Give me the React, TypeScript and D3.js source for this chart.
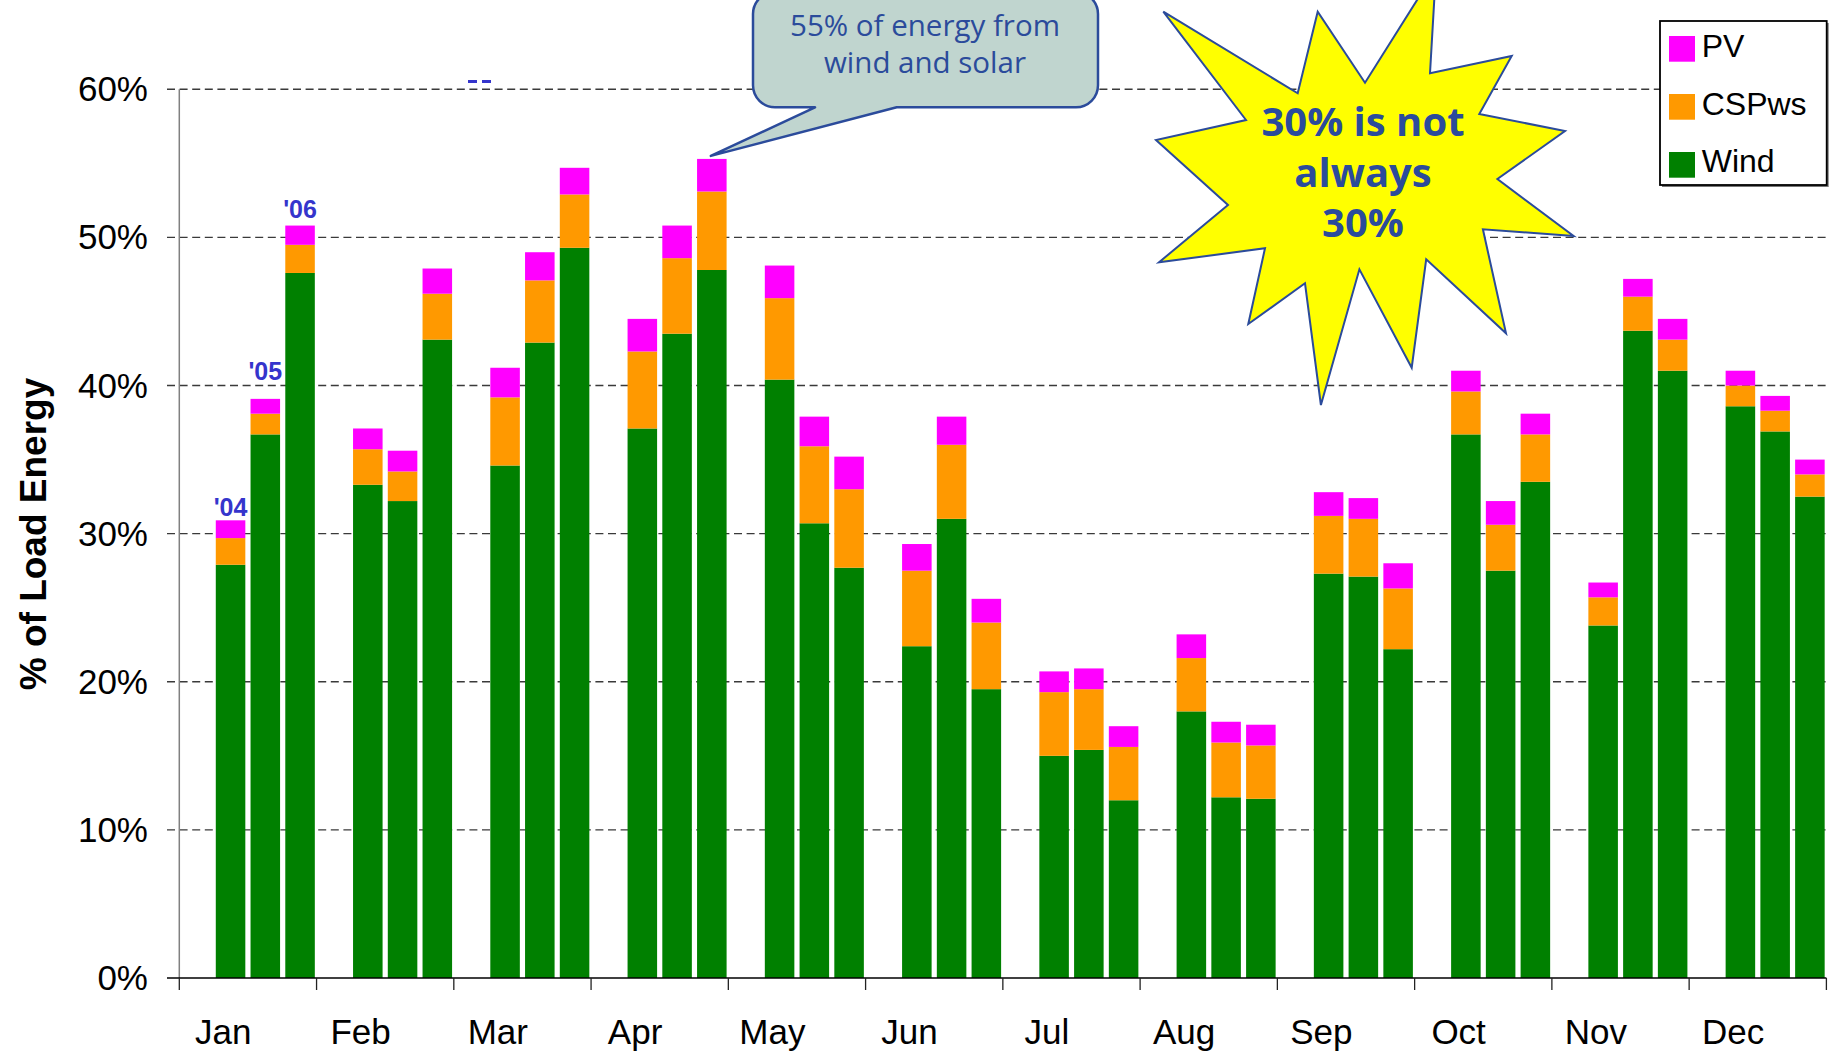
import React from "react";
import * as d3 from "d3";

const months = ["Jan", "Feb", "Mar", "Apr", "May", "Jun", "Jul", "Aug", "Sep", "Oct", "Nov", "Dec"];
const years = ["'04", "'05", "'06"];
const seriesNames = ["Wind", "CSPws", "PV"];
const seriesColors = ["#008000", "#FF9900", "#FF00FF"];

// month-major: Jan'04, Jan'05, Jan'06, Feb'04 ...
const wind = [27.9, 36.7, 47.6, 33.3, 32.2, 43.1, 34.6, 42.9, 49.3, 37.1, 43.5, 47.8, 40.4, 30.7, 27.7, 22.4, 31.0, 19.5, 15.0, 15.4, 12.0, 18.0, 12.2, 12.1, 27.3, 27.1, 22.2, 36.7, 27.5, 33.5, 23.8, 43.7, 41.0, 38.6, 36.9, 32.5];
const cspws = [1.8, 1.4, 1.9, 2.4, 2.0, 3.1, 4.6, 4.2, 3.6, 5.2, 5.1, 5.3, 5.5, 5.2, 5.3, 5.1, 5.0, 4.5, 4.3, 4.1, 3.6, 3.6, 3.7, 3.6, 3.9, 3.9, 4.1, 2.9, 3.1, 3.2, 1.9, 2.3, 2.1, 1.4, 1.4, 1.5];
const pv = [1.2, 1.0, 1.3, 1.4, 1.4, 1.7, 2.0, 1.9, 1.8, 2.2, 2.2, 2.2, 2.2, 2.0, 2.2, 1.8, 1.9, 1.6, 1.4, 1.4, 1.4, 1.6, 1.4, 1.4, 1.6, 1.4, 1.7, 1.4, 1.6, 1.4, 1.0, 1.2, 1.4, 1.0, 1.0, 1.0];

const yTicks = [0, 10, 20, 30, 40, 50, 60];
const yearLabelGaps = [4, 19, 8]; // px above the Jan bars for '04, '05, '06
const calloutText = ["55% of energy from", "wind and solar"];
const burstText = ["30% is not", "always", "30%"];

const W = 1839;
const H = 1052;
const FONT = "'Liberation Sans', Arial, sans-serif";
const BLUE = "#2B4B9B";

export default function App() {
  const rows = months.flatMap((m, i) =>
    years.map((yr, j) => ({
      month: m,
      year: yr,
      Wind: wind[i * 3 + j],
      CSPws: cspws[i * 3 + j],
      PV: pv[i * 3 + j],
    }))
  );
  const stack = d3.stack().keys(seriesNames)(rows as any);

  const x0 = d3.scaleBand().domain(months).range([179.3, 1826.4]).padding(0);
  const x1 = d3
    .scaleBand()
    .domain(["", ...years])
    .range([0, x0.bandwidth()])
    .paddingInner(0.15)
    .paddingOuter(0.05);
  const y = d3.scaleLinear().domain([0, 60]).range([978, 89.3]);

  const xLeft = 167;
  const xRight = 1826.4;

  const barX = (d: any) => (x0(d.data.month) as number) + (x1(d.data.year) as number);

  // callout geometry
  const cL = 753, cR = 1098, cT = -8, cB = 107.3, r = 22;
  const tipBar = rows.find((d) => d.month === "Apr" && d.year === "'06")!;
  const tipX = (x0("Apr") as number) + (x1("'06") as number) + x1.bandwidth() / 2 - 1;
  const tipY = y(tipBar.Wind + tipBar.CSPws + tipBar.PV) - 3;
  const calloutPath = `M${cL + r},${cT} H${cR - r} A${r},${r} 0 0 1 ${cR},${cT + r} V${cB - r} A${r},${r} 0 0 1 ${cR - r},${cB} H896.7 L${tipX},${tipY} L815,${cB} H${cL + r} A${r},${r} 0 0 1 ${cL},${cB - r} V${cT + r} A${r},${r} 0 0 1 ${cL + r},${cT} Z`;

  const burst: [number, number][] = [
    [1163.3, 11.7], [1297.7, 93.3], [1317.7, 11.7], [1365, 82.7], [1436, -30], [1430, 73.3],
    [1511.7, 56], [1479.3, 114], [1565, 131], [1497.4, 179], [1573.6, 236], [1482.9, 229.3],
    [1506, 333.3], [1426.2, 259.3], [1411.7, 367.7], [1359.4, 269.3], [1320.9, 405], [1305, 283.3],
    [1248.3, 324], [1265, 248.3], [1159, 262.3], [1228, 205], [1156, 140], [1246, 120],
  ];

  return (
    <svg
      width={W}
      height={H}
      viewBox={`0 0 ${W} ${H}`}
      style={{ position: "absolute", left: 0, top: 0, display: "block", background: "#fff" }}
    >
      <rect x={0} y={0} width={W} height={H} fill="#fff" />
      {/* gridlines */}
      {yTicks.filter((t) => t > 0).map((t) => (
        <line
          key={t}
          x1={xLeft}
          x2={xRight}
          y1={y(t)}
          y2={y(t)}
          stroke="#3a3a3a"
          strokeWidth={1.4}
          strokeDasharray="8 4.6"
        />
      ))}
      {/* bars */}
      {stack.map((s, si) => (
        <g key={s.key} fill={seriesColors[si]}>
          {s.map((d: any, k: number) => (
            <rect
              key={k}
              x={barX(d)}
              y={y(d[1])}
              width={x1.bandwidth()}
              height={y(d[0]) - y(d[1])}
            />
          ))}
        </g>
      ))}
      {/* axes */}
      <line x1={179.3} x2={179.3} y1={y(60)} y2={y(0)} stroke="#808080" strokeWidth={1.5} />
      <line x1={xLeft} x2={xRight} y1={y(0)} y2={y(0)} stroke="#000" strokeWidth={1.5} />
      {[...months.map((m) => x0(m) as number), xRight].map((xv, i) => (
        <line key={i} x1={xv} x2={xv} y1={y(0)} y2={y(0) + 12} stroke="#222" strokeWidth={1.3} />
      ))}
      {yTicks.map((t) => (
        <text key={t} x={148} y={y(t) + 12} textAnchor="end" fontFamily={FONT} fontSize={35} fill="#000">
          {`${t}%`}
        </text>
      ))}
      {months.map((m) => (
        <text
          key={m}
          x={(x0(m) as number) + 44}
          y={1044}
          textAnchor="middle"
          fontFamily={FONT}
          fontSize={35}
          fill="#000"
        >
          {m}
        </text>
      ))}
      <text
        transform="translate(46,534) rotate(-90)"
        textAnchor="middle"
        fontFamily={FONT}
        fontWeight="bold"
        fontSize={37}
        fill="#000"
      >
        % of Load Energy
      </text>
      {/* year annotations over Jan bars */}
      {years.map((yr, j) => {
        const d = rows[j];
        return (
          <text
            key={yr}
            x={(x0("Jan") as number) + (x1(yr) as number) + x1.bandwidth() / 2}
            y={y(d.Wind + d.CSPws + d.PV) - yearLabelGaps[j]}
            textAnchor="middle"
            fontFamily={FONT}
            fontWeight="bold"
            fontSize={25}
            fill="#3535CC"
          >
            {yr}
          </text>
        );
      })}
      {/* stray blue marks */}
      <rect x={468} y={80} width={9} height={3} fill="#3535CC" />
      <rect x={482} y={80} width={9} height={3} fill="#3535CC" />
      {/* callout */}
      <path d={calloutPath} fill="#C0D5CF" stroke={BLUE} strokeWidth={2.5} strokeLinejoin="round" />
      {calloutText.map((t, i) => (
        <text
          key={i}
          x={925}
          y={36 + i * 37.3}
          textAnchor="middle"
          fontFamily="'Open Sans', sans-serif"
          fontSize={29.5}
          fill={BLUE}
        >
          {t}
        </text>
      ))}
      {/* starburst */}
      <polygon
        points={burst.map((p) => p.join(",")).join(" ")}
        fill="#FFFF00"
        stroke={BLUE}
        strokeWidth={2}
        strokeLinejoin="miter"
      />
      {burstText.map((t, i) => (
        <text
          key={i}
          x={1363}
          y={136 + i * 50.7}
          textAnchor="middle"
          fontFamily="'Open Sans', sans-serif"
          fontWeight="bold"
          fontSize={40}
          fill={BLUE}
        >
          {t}
        </text>
      ))}
      {/* legend */}
      <g>
        <rect x={1662} y={23} width={166.7} height={164} fill="#777" />
        <rect x={1660} y={21} width={166.7} height={164} fill="#fff" stroke="#000" strokeWidth={1.8} />
        {["PV", "CSPws", "Wind"].map((name, i) => (
          <g key={name}>
            <rect
              x={1669}
              y={36 + i * 58}
              width={26}
              height={25.7}
              fill={seriesColors[seriesNames.indexOf(name)]}
            />
            <text x={1701.7} y={57 + i * 57.5} fontFamily={FONT} fontSize={32} fill="#000">
              {name}
            </text>
          </g>
        ))}
      </g>
    </svg>
  );
}
